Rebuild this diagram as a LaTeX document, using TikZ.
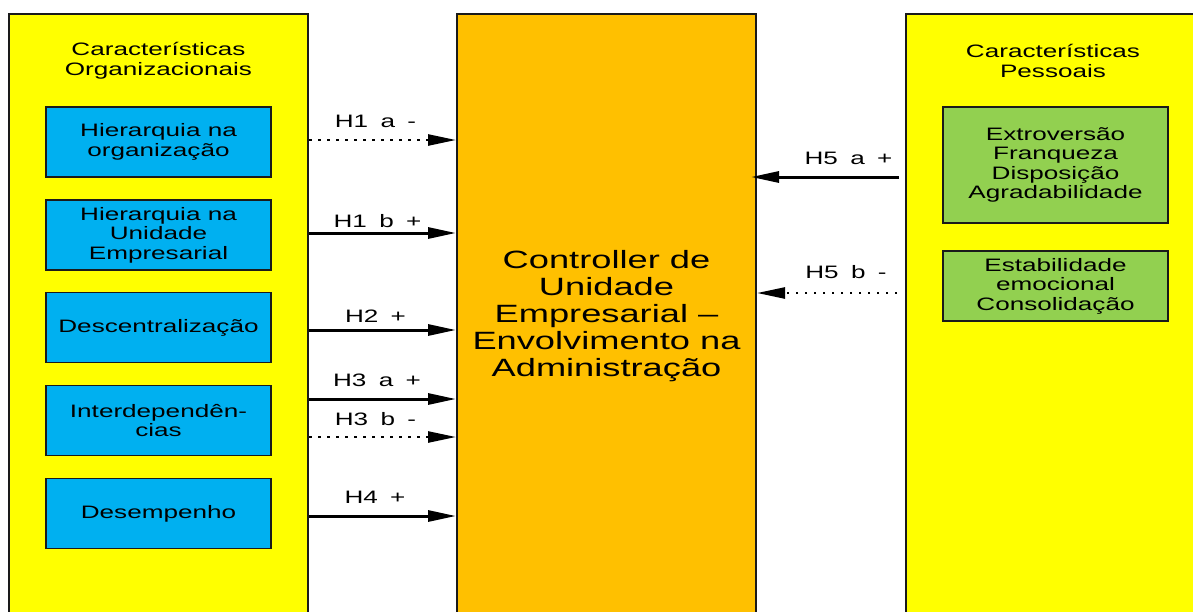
\documentclass[tikz,border=0pt]{standalone}
\usepackage{fontspec}
\setmainfont{Liberation Sans}[FakeStretch=1.45]
\newfontfamily\labfont{Liberation Sans}[FakeStretch=1.45,WordSpace=1.7]
\usetikzlibrary{arrows.meta}
\definecolor{ylw}{HTML}{FFFF00}
\definecolor{org}{HTML}{FFC000}
\definecolor{blu}{HTML}{00B0F0}
\definecolor{grn}{HTML}{92D050}
\definecolor{edge}{HTML}{1A1A1A}
\begin{document}
\begin{tikzpicture}[x=1pt,y=-1pt,
  bigbox/.style={draw=edge,line width=2pt,inner sep=0pt,minimum width=299pt,minimum height=700pt},
  innerbox/.style={draw=edge,line width=1.6pt,minimum width=225pt,minimum height=70pt,align=center,inner sep=2pt,font=\fontsize{18}{19.5}\selectfont},
  titletext/.style={align=center,inner sep=0pt,font=\fontsize{18}{20}\selectfont},
  maintext/.style={align=center,inner sep=0pt,font=\fontsize{25}{27}\selectfont},
  lab/.style={anchor=base,inner sep=0pt,font=\labfont\fontsize{18}{20}\selectfont},
  solidarrow/.style={draw=black,line width=3pt,-{Triangle[length=28pt,width=11pt]}},
  dotarrow/.style={draw=black,line width=2.5pt,dash pattern=on 2.5pt off 6.5pt,-{Triangle[length=28pt,width=11pt]}}
]
\useasboundingbox (0,0) rectangle (1193,611);
\clip (0,0) rectangle (1193,611);

% big boxes
\node[bigbox,fill=ylw] (L) at (158.5,364) {};
\node[bigbox,fill=org] (C) at (606.5,364) {};
\node[bigbox,fill=ylw] (R) at (1055.5,364) {};

% titles
\node[titletext] (Lt) at (158.5,61) {Características\\Organizacionais};
\node[titletext] (Rt) at (1053,61) {Características\\Pessoais};
\node[maintext] (Ct) at (606.5,316) {Controller de\\Unidade\\Empresarial --\\Envolvimento na\\Administração};

% left blue boxes
\node[innerbox,fill=blu] (b1) at (158.5,142) {Hierarquia na\\organização};
\node[innerbox,fill=blu] (b2) at (158.5,235) {Hierarquia na\\Unidade\\Empresarial};
\node[innerbox,fill=blu] (b3) at (158.5,327.5) {Descentralização};
\node[innerbox,fill=blu] (b4) at (158.5,420.5) {Interdependên-\\cias};
\node[innerbox,fill=blu] (b5) at (158.5,513.5) {Desempenho};

% right green boxes
\node[innerbox,fill=grn,minimum height=116pt] (g1) at (1055.5,165) {Extroversão\\Franqueza\\Disposição\\Agradabilidade};
\node[innerbox,fill=grn] (g2) at (1055.5,286) {Estabilidade\\emocional\\Consolidação};

% arrow heights
\coordinate (y1a) at (0,140);
\coordinate (y1b) at (0,233);
\coordinate (y2) at (0,330);
\coordinate (y3a) at (0,399);
\coordinate (y3b) at (0,437);
\coordinate (y4) at (0,516);
\coordinate (y5a) at (0,177);
\coordinate (y5b) at (0,293);

% arrows
\draw[dotarrow] (L.east |- y1a) -- (C.west |- y1a);
\draw[solidarrow] (L.east |- y1b) -- (C.west |- y1b);
\draw[solidarrow] (L.east |- y2) -- (C.west |- y2);
\draw[solidarrow] (L.east |- y3a) -- (C.west |- y3a);
\draw[dotarrow] (L.east |- y3b) -- (C.west |- y3b);
\draw[solidarrow] (L.east |- y4) -- (C.west |- y4);
\draw[solidarrow,shorten <=6pt,shorten >=-6pt] (R.west |- y5a) -- (C.east |- y5a);
\draw[dotarrow,shorten <=8pt] (R.west |- y5b) -- (C.east |- y5b);

% labels
\node[lab] (l1a) at (375.5,127) {H1 a -};
\node[lab] (l1b) at (377.5,227) {H1 b +};
\node[lab] (l2) at (375.5,322) {H2 +};
\node[lab] (l3a) at (377,386) {H3 a +};
\node[lab] (l3b) at (375.5,425) {H3 b -};
\node[lab] (l4) at (375,503) {H4 +};
\node[lab] (l5a) at (848.5,164) {H5 a +};
\node[lab] (l5b) at (846,278) {H5 b -};
\end{tikzpicture}
\end{document}
